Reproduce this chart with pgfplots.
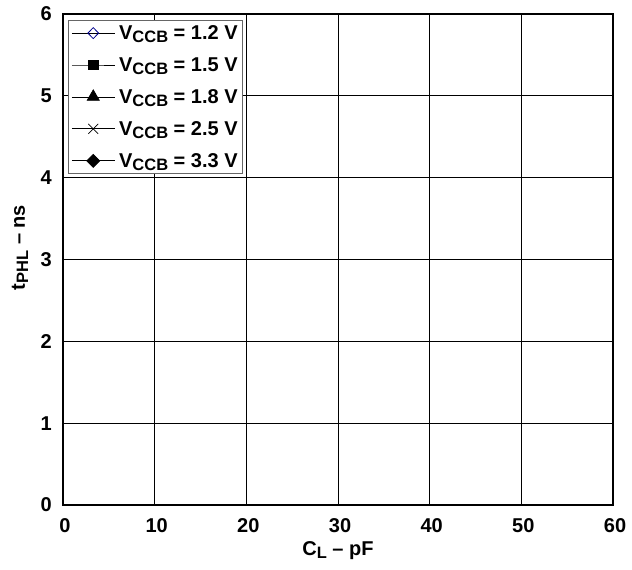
\documentclass[border=0pt]{standalone}
\usepackage{pgfplots}
\pgfplotsset{compat=1.18}
\usepackage{fontspec}
\setmainfont{Liberation Sans}
\newcommand{\bigf}{\fontsize{20}{24}\selectfont\bfseries}
\newcommand{\sub}[1]{\raisebox{-0.3ex}{\fontsize{16.5}{18}\selectfont\bfseries #1}}
\begin{document}
\begin{tikzpicture}
\begin{axis}[
  scale only axis, width=550pt, height=491pt,
  xmin=0, xmax=60, ymin=0, ymax=6,
  xtick={0,10,...,60}, ytick={0,1,...,6},
  grid=major, major grid style={black, line width=0.8pt},
  axis line style={line width=2.4pt},
  major tick length=0pt,
  tick label style={font=\bigf, inner sep=0pt},
  xticklabel style={anchor=north, yshift=-13pt, xshift=2pt},
  yticklabel style={anchor=east, xshift=-11pt},
  /pgf/number format/assume math mode=true,
  xlabel={\bigf C\sub{L} – pF},
  ylabel={\bigf t\sub{PHL} – ns},
  xlabel style={at={(axis description cs:0.5,0)}, anchor=base, yshift=-50pt, inner sep=0pt},
  ylabel style={at={(axis description cs:0,0.5)}, anchor=base, yshift=38pt, xshift=12pt, inner sep=0pt},
  legend cell align=left,
  legend style={at={(0,1)}, anchor=north west, xshift=5pt, yshift=-6pt,
    draw=black!60, line width=0.8pt, font=\bigf,
    row sep=12.5pt, inner xsep=3pt, inner ysep=3pt},
  legend image code/.code={\draw[mark repeat=2,mark phase=2] plot coordinates {(0pt,0pt) (21.5pt,0pt) (43pt,0pt)};},
]
\addlegendimage{black, line width=0.7pt, mark=diamond, mark size=5.5pt, mark options={xscale=1.3, draw=blue!55!black, fill=white, line width=0.8pt}}
\addlegendentry{\hspace{2pt}V\sub{CCB} = 1.2 V}
\addlegendimage{black, line width=0.7pt, mark=square*, mark size=4.7pt, mark options={fill=black}}
\addlegendentry{\hspace{2pt}V\sub{CCB} = 1.5 V}
\addlegendimage{black, line width=0.7pt, mark=triangle*, mark size=7pt, mark options={fill=black}}
\addlegendentry{\hspace{2pt}V\sub{CCB} = 1.8 V}
\addlegendimage{black, line width=0.7pt, mark=x, mark size=7pt}
\addlegendentry{\hspace{2pt}V\sub{CCB} = 2.5 V}
\addlegendimage{black, line width=0.7pt, mark=diamond*, mark size=6.5pt, mark options={xscale=1.33, fill=black}}
\addlegendentry{\hspace{2pt}V\sub{CCB} = 3.3 V}
\end{axis}
\pgfresetboundingbox
\useasboundingbox ([shift={(-63pt,-64pt)}]current axis.south west) rectangle ([shift={(19pt,14pt)}]current axis.north east);
\end{tikzpicture}
\end{document}
